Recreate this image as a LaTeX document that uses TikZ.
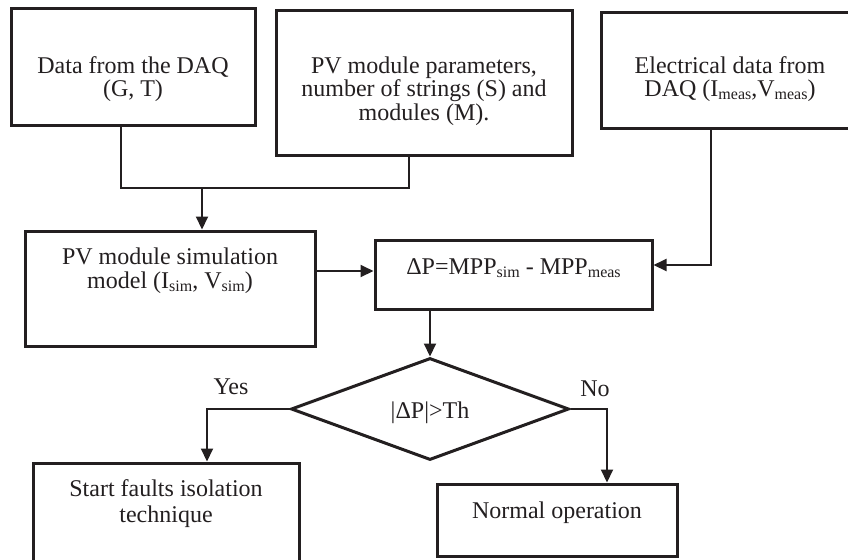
\documentclass[tikz,border=0pt]{standalone}
\usepackage{fontspec}
\setmainfont{Liberation Serif}
\usetikzlibrary{shapes.geometric,arrows.meta}
\definecolor{ink}{HTML}{231F20}
\newcommand{\sbs}[1]{\raisebox{-1.7pt}{\fontsize{8}{8}\selectfont #1}}
\begin{document}
\begin{tikzpicture}[x=0.5pt,y=-0.5pt,
  box/.style={draw=ink,line width=1.5pt,rectangle,inner sep=0pt},
  dia/.style={draw=ink,line width=1.5pt,diamond,inner sep=0pt},
  txt/.style={text=ink,inner sep=0pt,anchor=base,align=center,font=\fontsize{12}{11.75}\selectfont},
  conn/.style={draw=ink,line width=1pt},
  arr/.style={conn,-{Triangle[length=6.5pt,width=6pt]}}]
\useasboundingbox (0,0) rectangle (848,559);
\clip (0,0) rectangle (848,559);
% boxes
\node[box,minimum width=122pt,minimum height=58.5pt] (b1) at (133,66.5) {};
\node[box,minimum width=148pt,minimum height=72.5pt] (b2) at (424,82.5) {};
\node[box,minimum width=129pt,minimum height=58pt] (b3) at (730,70) {};
\node[box,minimum width=145pt,minimum height=57.5pt] (b4) at (170,288.5) {};
\node[box,minimum width=138.5pt,minimum height=34.5pt] (b5) at (513.5,274.5) {};
\node[dia,minimum width=139pt,minimum height=51pt] (d) at (430,409) {};
\node[box,minimum width=133pt,minimum height=53.5pt] (b6) at (166,516.5) {};
\node[box,minimum width=120pt,minimum height=36pt] (b7) at (557,520) {};
% texts (base anchor = baseline of the last line)
\node[txt] (t1) at (133,96.5) {Data from the DAQ\\(G, T)};
\node[txt] (t2) at (424,120) {PV module parameters,\\number of strings (S) and\\modules (M).};
\node[txt] (t3) at (730,96.5) {Electrical data from\\DAQ (I\sbs{meas},V\sbs{meas})};
\node[txt] (t4) at (170,288) {PV module simulation\\model (I\sbs{sim}, V\sbs{sim})};
\node[txt] (t5) at (513.5,274) {ΔP=MPP\sbs{sim} - MPP\sbs{meas}};
\node[txt] (td) at (430,418) {|ΔP|>Th};
\node[txt] (ty) at (231,394) {Yes};
\node[txt] (tn) at (595,396) {No};
\node[txt,font=\fontsize{12}{12.75}\selectfont] (t6) at (166,522) {Start faults isolation\\technique};
\node[txt] (t7) at (557,518) {Normal operation};
% bend points
\coordinate (m1) at (121,188);
\coordinate (m2) at (409,188);
\coordinate (j) at (202,188);
\coordinate (h1) at (0,271);
\coordinate (c3) at (711,265);
\coordinate (cy) at (207,409);
\coordinate (cn) at (607,409);
% connectors
\draw[conn] (b1.south -| m1) -- (m1) -- (m2) -- (b2.south -| m2);
\draw[arr] (j) -- (b4.north -| j);
\draw[arr] (b4.east |- h1) -- (b5.west |- h1);
\draw[arr] (b3.south -| c3) -- (c3) -- (b5.east |- c3);
\draw[arr] (b5.south -| d.north) -- (d.north);
\draw[arr] (d.west) -- (cy) -- (b6.north -| cy);
\draw[arr] (d.east) -- (cn) -- (b7.north -| cn);
\end{tikzpicture}
\end{document}
